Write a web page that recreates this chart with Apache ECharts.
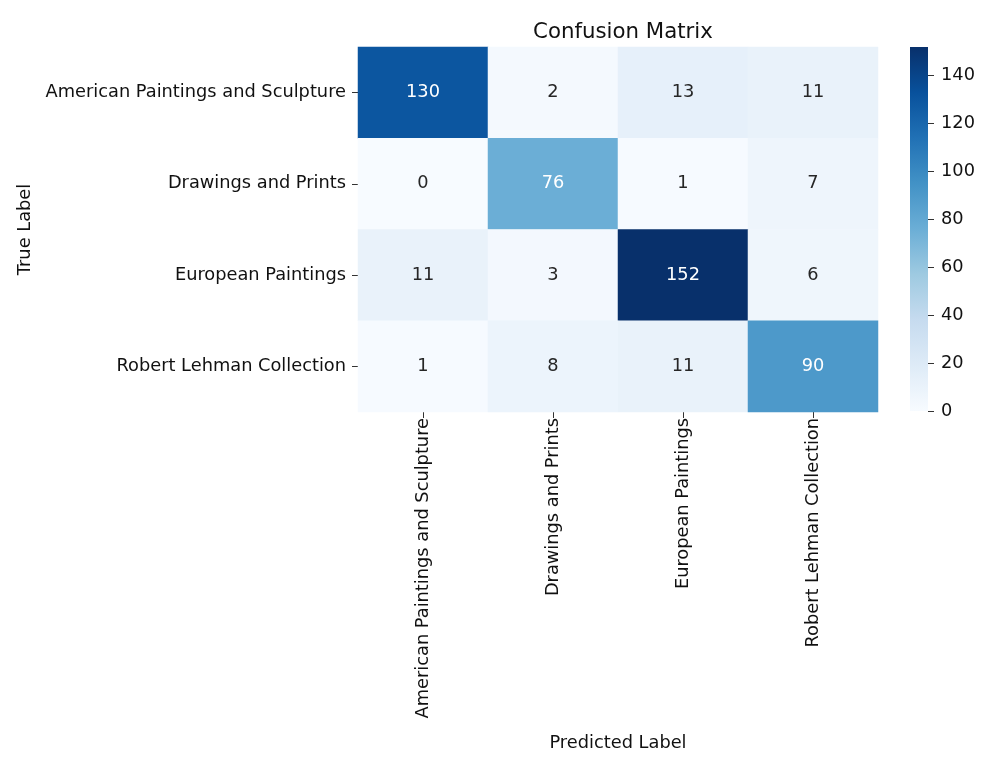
<!DOCTYPE html>
<html>
<head>
<meta charset="utf-8">
<title>Confusion Matrix</title>
<script src="https://cdn.jsdelivr.net/npm/echarts@6/dist/echarts.min.js"></script>
<style>
  html, body { margin: 0; padding: 0; background: #fff; }
  #main { width: 1000px; height: 771px; }
</style>
</head>
<body>
<div id="main"></div>
<script>
var classes = ['American Paintings and Sculpture', 'Drawings and Prints', 'European Paintings', 'Robert Lehman Collection'];
// rows = true label, cols = predicted label
var matrix = [
	[130, 2, 13, 11],
	[0, 76, 1, 7],
	[11, 3, 152, 6],
	[1, 8, 11, 90]
];
var colorbarTicks = [0, 20, 40, 60, 80, 100, 120, 140];
var vMax = 152;

var blues = ['#f7fbff', '#deebf7', '#c6dbef', '#9ecae1', '#6baed6', '#4292c6', '#2171b5', '#08519c', '#08306b'];
var font = 'DejaVu Sans';
var textColor = '#262626';
var fs = 17.8;

var cells = [];
for (var r = 0; r < matrix.length; r++) {
	for (var c = 0; c < matrix[r].length; c++) {
		var v = matrix[r][c];
		cells.push({
			value: [c, r, v],
			label: { color: v > 60 ? '#ffffff' : textColor }
		});
	}
}

var stops = blues.map(function(col, i) {
	return { offset: 1 - i / (blues.length - 1), color: col };
});

var myChart = echarts.init(document.getElementById('main'));
var option = {
	backgroundColor: '#fff',
	animation: false,
	textStyle: { fontFamily: font },
	title: {
		text: 'Confusion Matrix',
		left: 618,
		top: 17,
		textAlign: 'center',
		textStyle: { fontFamily: font, fontSize: 21.3, fontWeight: 'normal', color: '#111' }
	},
	grid: [
		{ left: 358, top: 47, width: 520, height: 365 },
		{ left: 910, top: 47, width: 18, height: 364 }
	],
	xAxis: [{
		gridIndex: 0,
		type: 'category',
		data: classes,
		position: 'bottom',
		name: 'Predicted Label',
		nameLocation: 'middle',
		nameGap: 322,
		nameTextStyle: { fontFamily: font, fontSize: fs, color: '#111' },
		axisLine: { show: false },
		axisTick: { show: true, alignWithLabel: true, length: 6, lineStyle: { color: '#333' } },
		axisLabel: { rotate: 90, fontSize: fs, color: '#111', margin: 6, fontFamily: font },
		splitLine: { show: false }
	}, {
		gridIndex: 1,
		type: 'category',
		data: [''],
		show: false
	}],
	yAxis: [{
		gridIndex: 0,
		type: 'category',
		data: classes,
		inverse: true,
		name: 'True Label',
		nameLocation: 'middle',
		nameGap: 322,
		nameRotate: 90,
		nameTextStyle: { fontFamily: font, fontSize: fs, color: '#111' },
		axisLine: { show: false },
		axisTick: { show: true, alignWithLabel: true, length: 6, lineStyle: { color: '#333' } },
		axisLabel: { fontSize: fs, color: '#111', margin: 12, fontFamily: font },
		splitLine: { show: false }
	}, {
		gridIndex: 1,
		type: 'value',
		min: 0,
		max: vMax,
		position: 'right',
		axisLine: { show: false },
		axisTick: { show: true, length: 6, lineStyle: { color: '#333' }, customValues: colorbarTicks },
		axisLabel: { fontSize: fs, color: '#111', margin: 13, fontFamily: font, customValues: colorbarTicks },
		splitLine: { show: false }
	}],
	visualMap: {
		show: false,
		seriesIndex: 0,
		dimension: 2,
		min: 0,
		max: vMax,
		inRange: { color: blues }
	},
	series: [{
		type: 'heatmap',
		xAxisIndex: 0,
		yAxisIndex: 0,
		data: cells,
		label: { show: true, fontSize: fs, fontFamily: font },
		emphasis: { disabled: true }
	}, {
		type: 'bar',
		xAxisIndex: 1,
		yAxisIndex: 1,
		data: [vMax],
		barWidth: '100%',
		silent: true,
		itemStyle: { color: new echarts.graphic.LinearGradient(0, 0, 0, 1, stops) }
	}]
};
myChart.setOption(option);
</script>
</body>
</html>
